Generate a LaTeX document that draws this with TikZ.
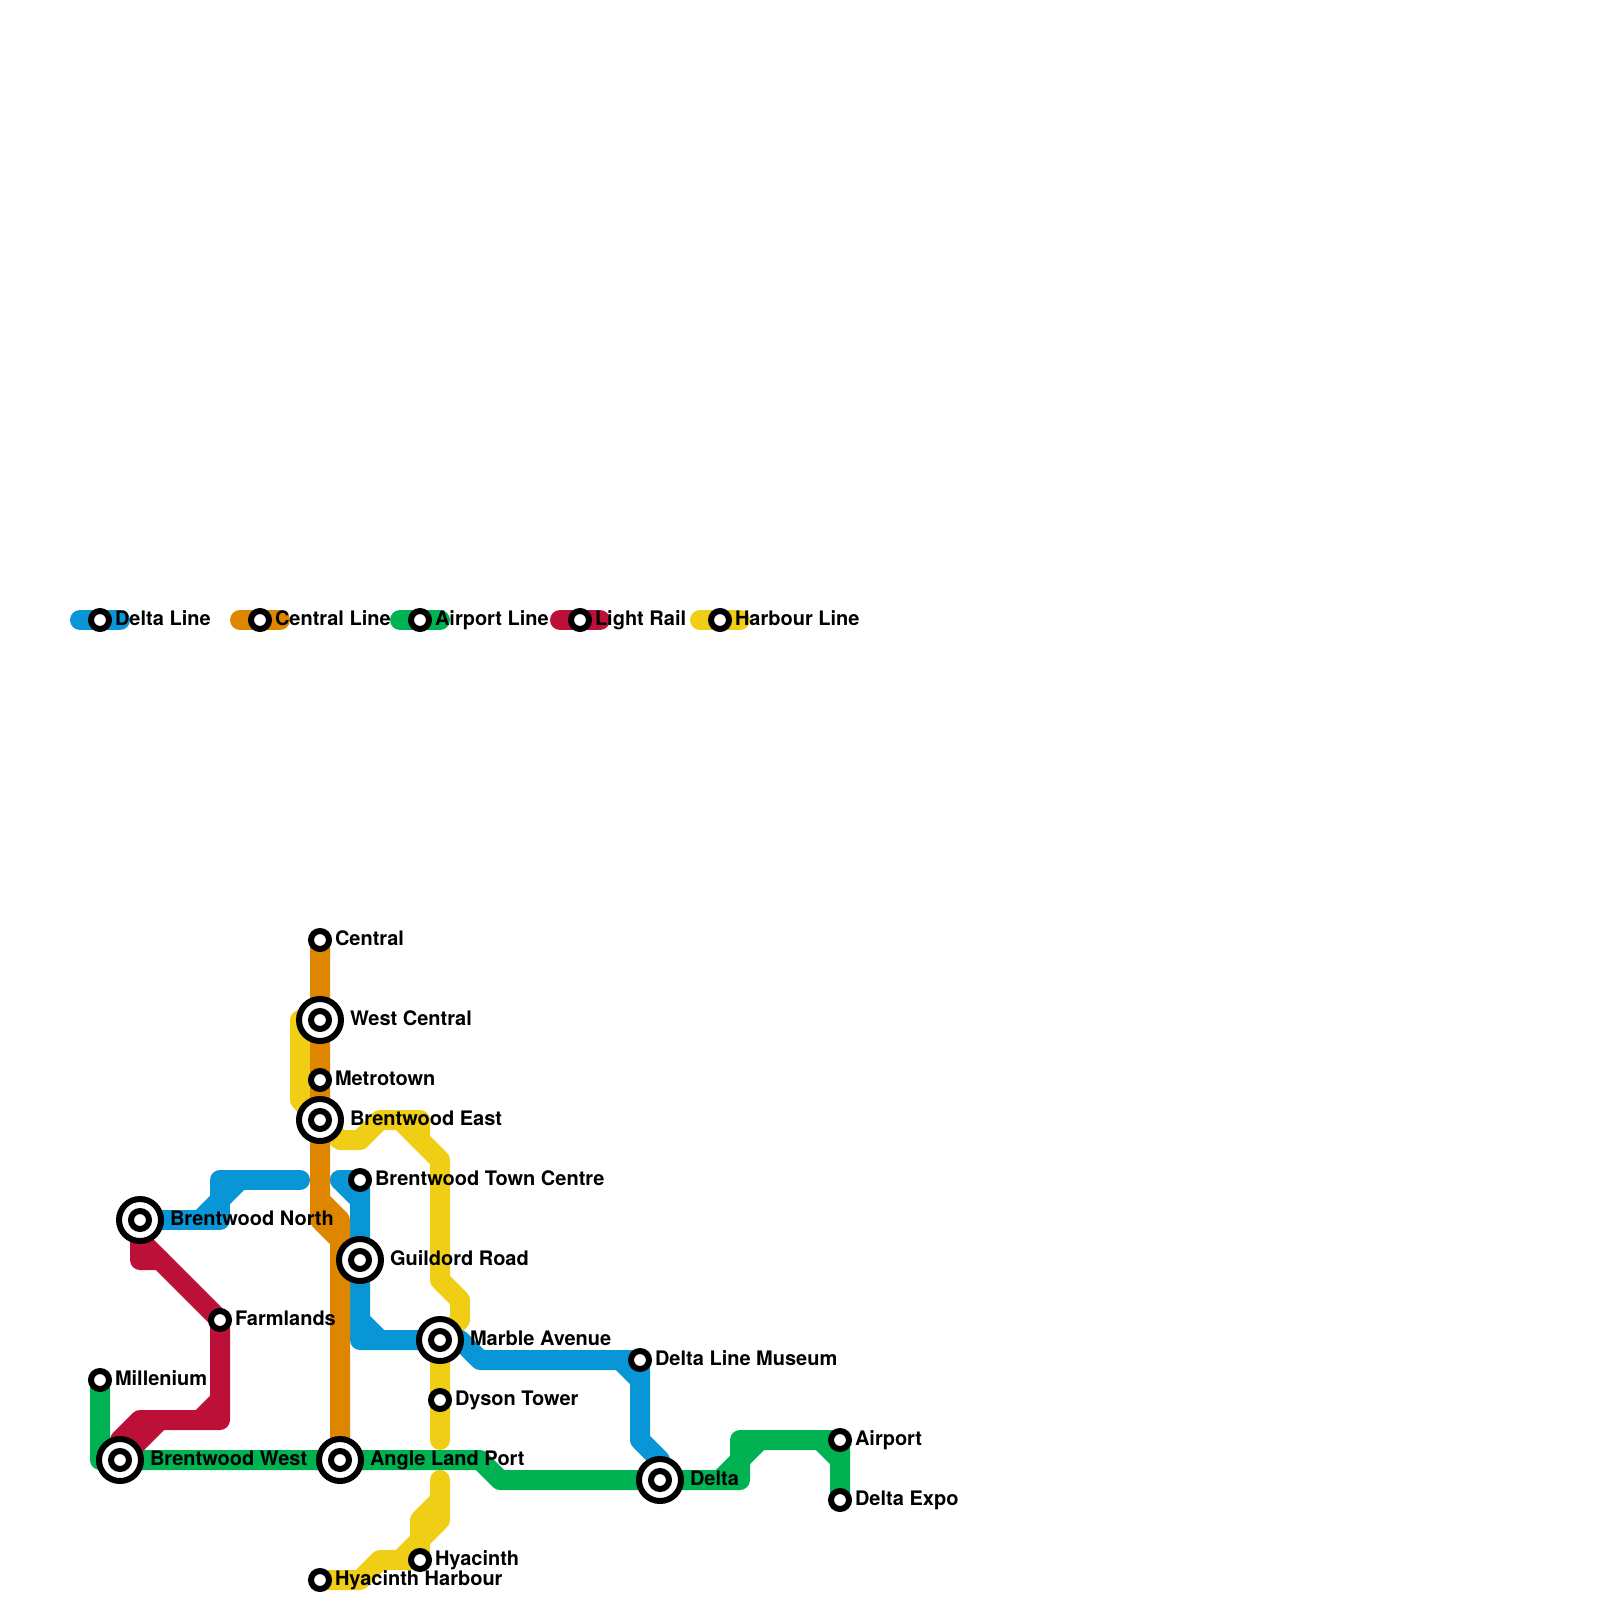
\documentclass[tikz,border=0pt]{standalone}
\usepackage{fontspec}
\setmainfont{TeX Gyre Heros}
\definecolor{dline}{HTML}{0896D7}
\definecolor{cline}{HTML}{DF8600}
\definecolor{aline}{HTML}{00B251}
\definecolor{rline}{HTML}{BD1038}
\definecolor{hline}{HTML}{F0CE15}
\pgfdeclarelayer{lines}
\pgfsetlayers{lines,main}
\tikzset{
  route/.style={line width=10pt,line join=round,line cap=round},
  ring/.style={draw=black,fill=white,line width=3pt},
  lbl/.style={anchor=base west,inner sep=0pt,outer sep=0pt,font=\fontsize{10}{12}\selectfont\bfseries,text=black}
}
\begin{document}
\begin{tikzpicture}[x=0.5pt,y=-0.5pt]
\useasboundingbox (0,0) rectangle (1600,1600);
% legend
\coordinate (d1) at (80,620); \coordinate (d2) at (120,620);
\coordinate (c1) at (240,620); \coordinate (c2) at (280,620);
\coordinate (a1) at (400,620); \coordinate (a2) at (440,620);
\coordinate (r1) at (560,620); \coordinate (r2) at (600,620);
\coordinate (h1) at (700,620); \coordinate (h2) at (740,620);
\foreach \n/\x/\t in {ld/100/Delta Line,lc/260/Central Line,la/420/Airport Line,lr/580/Light Rail,lh/720/Harbour Line}{
  \coordinate (\n) at (\x,620);
  \draw[ring] (\n) circle[radius=4.5pt];
  \node[lbl] (\n t) at ({\x+15},625) {\t};
}
% hubs
\foreach \n/\x/\y/\t in {wc/320/1020/West Central,be/320/1120/Brentwood East,bn/140/1220/Brentwood North,gr/360/1260/Guildord Road,ma/440/1340/Marble Avenue,bw/120/1460/Brentwood West,al/340/1460/Angle Land Port,de/660/1480/Delta}{
  \coordinate (\n) at (\x,\y);
  \draw[ring] (\n) circle[radius=10.5pt];
  \draw[ring] (\n) circle[radius=4.5pt];
  \node[lbl] (\n t) at ({\x+30},{\y+5}) {\t};
}
% stops
\foreach \n/\x/\y/\t in {ce/320/940/Central,mt/320/1080/Metrotown,bt/360/1180/Brentwood Town Centre,fa/220/1320/Farmlands,mi/100/1380/Millenium,dm/640/1360/Delta Line Museum,dy/440/1400/Dyson Tower,ap/840/1440/Airport,dx/840/1500/Delta Expo,hy/420/1560/Hyacinth,hh/320/1580/Hyacinth Harbour}{
  \coordinate (\n) at (\x,\y);
  \draw[ring] (\n) circle[radius=4.5pt];
  \node[lbl] (\n t) at ({\x+15},{\y+5}) {\t};
}
\begin{pgfonlayer}{lines}
% legend lines
\draw[route,dline] (d1) -- (d2);
\draw[route,cline] (c1) -- (c2);
\draw[route,aline] (a1) -- (a2);
\draw[route,rline] (r1) -- (r2);
\draw[route,hline] (h1) -- (h2);
% harbour
\draw[route,hline] (wc) -- (300,1020) -- (300,1100) -- (be) -- (340,1140) -- (360,1140) -- (380,1120) -- (420,1120) -- (420,1140) -- (440,1160) -- (440,1280) -- (460,1300) -- (460,1320) -- (ma) -- (dy) -- (440,1440);
\draw[route,hline] (400,1120) -- (420,1140);
\draw[route,hline] (440,1480) -- (440,1520) -- (420,1540) -- (hy) -- (380,1560) -- (360,1580) -- (hh);
\draw[route,hline] (440,1500) -- (420,1520) -- (420,1540);
\draw[route,hline] (400,1560) -- (420,1540);
% delta
\draw[route,dline] (bn) -- (220,1220) -- (220,1180) -- (300,1180);
\draw[route,dline] (200,1220) -- (240,1180);
\draw[route,dline] (340,1180) -- (bt) -- (gr) -- (360,1340) -- (ma) -- (460,1340) -- (480,1360) -- (dm) -- (640,1440) -- (660,1460) -- (de);
\draw[route,dline] (340,1180) -- (360,1200);
\draw[route,dline] (360,1320) -- (380,1340);
\draw[route,dline] (620,1360) -- (640,1380);
% central
\draw[route,cline] (ce) -- (wc) -- (mt) -- (be) -- (320,1220) -- (340,1240) -- (al);
\draw[route,cline] (320,1200) -- (340,1220) -- (340,1240);
% airport
\draw[route,aline] (mi) -- (100,1460) -- (bw) -- (al) -- (480,1460) -- (500,1480) -- (de) -- (740,1480) -- (740,1440) -- (ap) -- (dx);
\draw[route,aline] (720,1480) -- (760,1440);
\draw[route,aline] (820,1440) -- (840,1460);
% light rail
\draw[route,rline] (bn) -- (140,1260) -- (160,1260) -- (fa) -- (220,1420) -- (140,1420) -- (120,1440) -- (bw);
\draw[route,rline] (140,1240) -- (160,1260);
\draw[route,rline] (200,1420) -- (220,1400);
\draw[route,rline] (160,1420) -- (bw);
\end{pgfonlayer}
\end{tikzpicture}
\end{document}
